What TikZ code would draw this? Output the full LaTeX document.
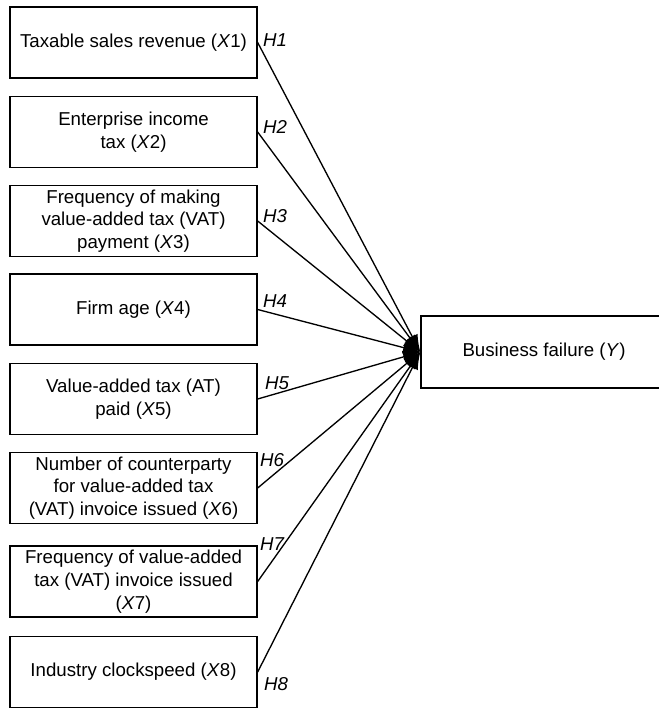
\documentclass[tikz,border=0pt]{standalone}
\usepackage{fontspec}
\setmainfont{Liberation Sans}
\usetikzlibrary{arrows.meta}

\tikzset{
	varbox/.style={draw, line width=1pt, minimum width=185.25pt, minimum height=53.25pt, align=center, inner sep=0.75pt, font=\fontsize{14}{17}\selectfont},
	hyplink/.style={line width=1pt, -{Latex[length=13pt,width=9pt]}},
	hyplabel/.style={inner sep=0.75pt, font=\fontsize{14}{17}\selectfont\itshape}
}

\begin{document}
\begin{tikzpicture}[x=0.75pt,y=0.75pt,yscale=-1,xscale=1]
		\useasboundingbox (0,0) rectangle (658,709);
		
		%Shape: Rectangle [predictors]
		\node [varbox] (x1) at (133.5,42.5) {Taxable sales revenue (\textit{X}1)};
		\node [varbox] (x2) at (133.5,132) {Enterprise income\\tax (\textit{X}2)};
		\node [varbox] (x3) at (133.5,221) {Frequency of making\\value-added tax (VAT)\\payment (\textit{X}3)};
		\node [varbox] (x4) at (133.5,309.5) {Firm age (\textit{X}4)};
		\node [varbox] (x5) at (133.5,399) {Value-added tax (AT)\\paid (\textit{X}5)};
		\node [varbox] (x6) at (133.5,488) {Number of counterparty\\for value-added tax\\(VAT) invoice issued (\textit{X}6)};
		\node [varbox] (x7) at (133.5,581.5) {Frequency of value-added\\tax (VAT) invoice issued\\(\textit{X}7)};
		\node [varbox] (x8) at (133.5,672) {Industry clockspeed (\textit{X}8)};
		%Shape: Rectangle [outcome]
		\node [varbox, minimum width=184.5pt, minimum height=54pt] (y) at (544,352) {Business failure (\textit{Y})};
		
		%Straight Lines [hypotheses]
		\foreach \i in {1,...,8}
			\draw [hyplink] (x\i.east) -- (y.west);
		
		% Text Node
		\node [hyplabel] (h1) at (275,40) {H1};
		\node [hyplabel] (h2) at (275,127) {H2};
		\node [hyplabel] (h3) at (275,216) {H3};
		\node [hyplabel] (h4) at (275,301) {H4};
		\node [hyplabel] (h5) at (277,383) {H5};
		\node [hyplabel] (h6) at (272,460) {H6};
		\node [hyplabel] (h7) at (272,544) {H7};
		\node [hyplabel] (h8) at (276,684) {H8};
	\end{tikzpicture}
\end{document}
